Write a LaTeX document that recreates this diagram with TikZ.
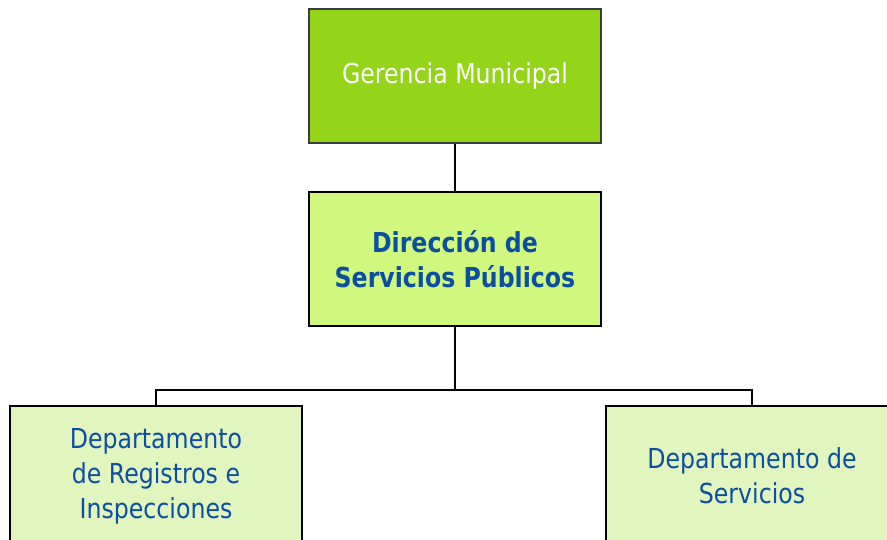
\documentclass[tikz,border=0pt]{standalone}
\usepackage{fontspec}
\setmainfont[FakeStretch=0.86]{DejaVu Sans}
\usepackage{xcolor}
\usepackage{tikz}

\definecolor{gerenciagreen}{RGB}{148,213,26}
\definecolor{direcciongreen}{RGB}{209,248,126}
\definecolor{deptgreen}{RGB}{225,245,190}
\definecolor{orgblue}{RGB}{12,78,162}
\definecolor{boxgray}{RGB}{60,60,60}

\begin{document}
\begin{tikzpicture}[x=1pt, y=-1pt,
    orgbox/.style={draw, line width=2.6pt, minimum width=292pt, minimum height=134pt,
      align=center, inner sep=0pt, font=\fontsize{27.5}{35}\selectfont},
    link/.style={line width=2.4pt}]
      \useasboundingbox (0, 0) rectangle (887, 539);
      \clip (0, 0) rectangle (887, 539);

      \node[orgbox, draw=boxgray, fill=gerenciagreen, text=white] (Gerencia) at (455, 76) {Gerencia Municipal};
      \node[orgbox, fill=direcciongreen, text=orgblue, font=\fontsize{27.5}{35}\selectfont\bfseries] (Direccion) at (455, 259)
        {Direcci\'on de\\Servicios P\'ublicos};

      % lower boxes run past the bottom edge
      \node[orgbox, minimum height=140pt, fill=deptgreen, text=orgblue] (Registros) at (156, 476) {Departamento\\de Registros e\\Inspecciones};
      \node[orgbox, minimum height=140pt, fill=deptgreen, text=orgblue] (Servicios) at (752, 476) {Departamento de\\Servicios};

      \coordinate (Bus) at (455, 390);

      \draw[link] (Gerencia) -- (Direccion);
      \draw[link] (Direccion.south) -- (Bus);
      \draw[link] (Registros.north) |- (Bus) -| (Servicios.north);
    \end{tikzpicture}
\end{document}
